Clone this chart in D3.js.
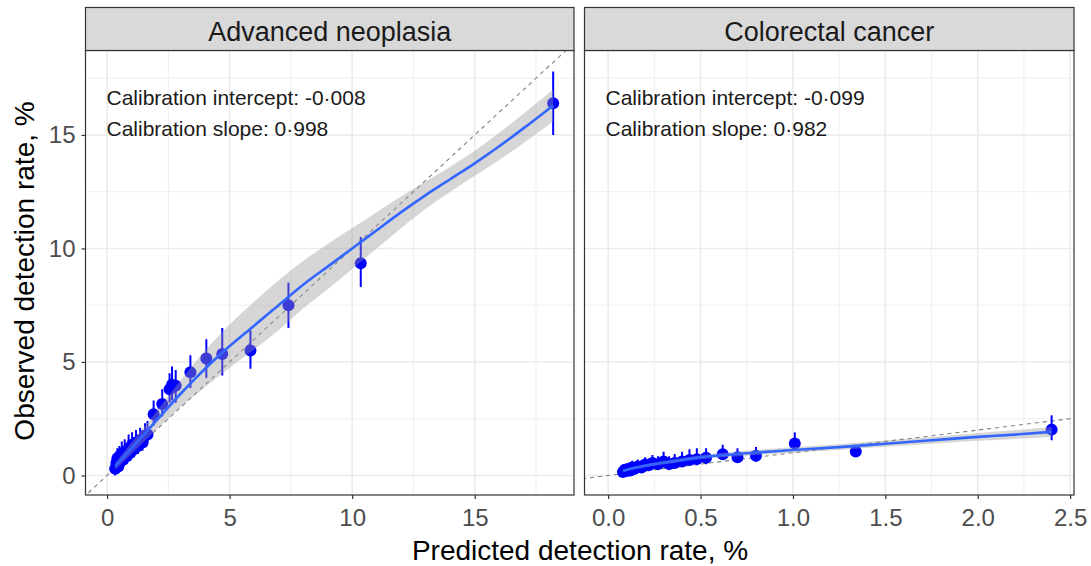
<!DOCTYPE html>
<html>
<head>
<meta charset="utf-8">
<script src="https://cdn.jsdelivr.net/npm/d3@7"></script>
<style>
  body { margin: 0; background: #fff; }
  text { font-family: "Liberation Sans", Arial, sans-serif; }
</style>
</head>
<body>
<div class="chart"></div>
<script>
// panel titles
const panelTitles = ['Advanced neoplasia', 'Colorectal cancer'];
const calibText = [
	['Calibration intercept: -0\u00b7008', 'Calibration slope: 0\u00b7998'],
	['Calibration intercept: -0\u00b7099', 'Calibration slope: 0\u00b7982']
];

// tick labels
const yTicks = [0, 5, 10, 15];
const anXTicks = [0, 5, 10, 15];
const crcXTicks = [0, 0.5, 1, 1.5, 2, 2.5];

// advanced neoplasia: observed vs predicted (%)
const anPred = [0.33, 0.38, 0.42, 0.46, 0.5, 0.55, 0.6, 0.66, 0.72, 0.8, 0.88, 0.95, 1.02, 1.1, 1.18, 1.26, 1.35, 1.45, 1.55, 1.65, 1.9, 2.25, 2.55, 2.65, 2.8, 3.4, 4.05, 4.7, 5.85, 7.4, 10.35, 18.2];
const anObs = [0.3, 0.55, 0.75, 0.4, 0.85, 0.6, 0.95, 0.7, 1.05, 0.85, 1.2, 1.0, 1.35, 1.15, 1.45, 1.3, 1.55, 1.45, 1.75, 1.8, 2.7, 3.15, 3.8, 4.0, 3.95, 4.55, 5.15, 5.35, 5.5, 7.5, 9.35, 16.4];
const anLo = [0.0, 0.2, 0.4, 0.1, 0.5, 0.3, 0.6, 0.4, 0.7, 0.5, 0.85, 0.65, 1.0, 0.8, 1.1, 0.95, 1.2, 1.1, 1.4, 1.45, 2.2, 2.6, 3.2, 3.3, 3.2, 3.85, 4.3, 4.4, 4.7, 6.5, 8.3, 15.0];
const anHi = [0.7, 1.0, 1.2, 0.8, 1.3, 1.1, 1.5, 1.2, 1.6, 1.4, 1.8, 1.5, 1.9, 1.7, 2.0, 1.8, 2.1, 2.0, 2.3, 2.4, 3.3, 3.8, 4.5, 4.8, 4.65, 5.3, 6.0, 6.5, 6.4, 8.5, 10.5, 17.8];

// colorectal cancer: observed vs predicted (%)
const crcPred = [0.08, 0.09, 0.1, 0.11, 0.12, 0.13, 0.14, 0.16, 0.18, 0.2, 0.22, 0.24, 0.27, 0.3, 0.33, 0.36, 0.4, 0.44, 0.48, 0.53, 0.62, 0.7, 0.8, 1.01, 1.34, 2.4];
const crcObs = [0.15, 0.25, 0.2, 0.3, 0.22, 0.35, 0.28, 0.4, 0.35, 0.48, 0.45, 0.55, 0.5, 0.62, 0.5, 0.55, 0.62, 0.68, 0.72, 0.78, 0.94, 0.8, 0.87, 1.41, 1.06, 2.02];
const crcLo = [0.0, 0.05, 0.05, 0.1, 0.05, 0.15, 0.1, 0.2, 0.15, 0.3, 0.25, 0.35, 0.3, 0.4, 0.3, 0.35, 0.4, 0.45, 0.45, 0.5, 0.7, 0.55, 0.6, 1.24, 0.85, 1.55];
const crcHi = [0.35, 0.45, 0.45, 0.55, 0.45, 0.65, 0.55, 0.7, 0.65, 0.8, 0.75, 0.9, 0.85, 1.05, 0.85, 0.95, 1.05, 1.15, 1.2, 1.2, 1.35, 1.2, 1.25, 1.9, 1.3, 2.65];

// loess fits with standard error band
const anFitX = [0.33, 1, 2, 3, 4, 5, 6, 7, 8, 9, 10, 11, 12, 13, 14, 15, 16, 17, 18.2];
const anFitY = [0.4, 1.2, 2.4, 3.6, 4.7, 5.7, 6.6, 7.5, 8.4, 9.2, 10.0, 10.8, 11.6, 12.35, 13.05, 13.75, 14.5, 15.3, 16.3];
const anFitSe = [0.15, 0.25, 0.4, 0.6, 0.8, 0.95, 1.05, 1.1, 1.05, 1.0, 0.9, 0.8, 0.7, 0.6, 0.55, 0.55, 0.6, 0.65, 0.7];
const crcFitX = [0.08, 0.15, 0.25, 0.35, 0.5, 0.75, 1.0, 1.25, 1.5, 1.75, 2.0, 2.2, 2.4];
const crcFitY = [0.2, 0.35, 0.5, 0.62, 0.8, 0.98, 1.12, 1.25, 1.4, 1.55, 1.7, 1.8, 1.92];
const crcFitSe = [0.06, 0.06, 0.07, 0.08, 0.09, 0.11, 0.12, 0.13, 0.14, 0.15, 0.17, 0.19, 0.21];

let w = 1091;
let h = 566;
let plotTop = 50.5, plotBottom = 495;
let font = '"Liberation Sans", Arial, sans-serif';

let svg = d3.select('.chart').append('svg').attr('width', w).attr('height', h);

let yScale = d3.scaleLinear().domain([ -0.86, 18.72 ]).range([ plotBottom, plotTop ]);

let panels = [
	{ x0: 85.5, x1: 574, domain: [ -0.88, 19.05 ], ticks: anXTicks, minor: [ 2.5, 7.5, 12.5, 17.5 ],
		pred: anPred, obs: anObs, lo: anLo, hi: anHi, fx: anFitX, fy: anFitY, fse: anFitSe, fmt: d3.format('d') },
	{ x0: 584.5, x1: 1074, domain: [ -0.128, 2.521 ], ticks: crcXTicks, minor: [ 0.25, 0.75, 1.25, 1.75, 2.25 ],
		pred: crcPred, obs: crcObs, lo: crcLo, hi: crcHi, fx: crcFitX, fy: crcFitY, fse: crcFitSe, fmt: d3.format('.1f') }
];

panels.forEach(function(p, k) {
	let xScale = d3.scaleLinear().domain(p.domain).range([ p.x0, p.x1 ]);
	let g = svg.append('g');

	g.append('clipPath').attr('id', 'clip' + k)
		.append('rect').attr('x', p.x0).attr('y', plotTop).attr('width', p.x1 - p.x0).attr('height', plotBottom - plotTop);

	// grid
	g.selectAll('.hmin').data([ 2.5, 7.5, 12.5, 17.5 ]).enter().append('line')
		.attr('x1', p.x0).attr('x2', p.x1).attr('y1', d => yScale(d)).attr('y2', d => yScale(d))
		.attr('stroke', '#ebebeb').attr('stroke-width', 0.8);
	g.selectAll('.vmin').data(p.minor).enter().append('line')
		.attr('y1', plotTop).attr('y2', plotBottom).attr('x1', d => xScale(d)).attr('x2', d => xScale(d))
		.attr('stroke', '#ebebeb').attr('stroke-width', 0.8);
	g.selectAll('.hmaj').data(yTicks).enter().append('line')
		.attr('x1', p.x0).attr('x2', p.x1).attr('y1', d => yScale(d)).attr('y2', d => yScale(d))
		.attr('stroke', '#ebebeb').attr('stroke-width', 1.6);
	g.selectAll('.vmaj').data(p.ticks).enter().append('line')
		.attr('y1', plotTop).attr('y2', plotBottom).attr('x1', d => xScale(d)).attr('x2', d => xScale(d))
		.attr('stroke', '#ebebeb').attr('stroke-width', 1.6);

	let plot = g.append('g').attr('clip-path', 'url(#clip' + k + ')');

	// identity line
	plot.append('line')
		.attr('x1', xScale(-1)).attr('y1', yScale(-1)).attr('x2', xScale(25)).attr('y2', yScale(25))
		.attr('stroke', '#7f7f7f').attr('stroke-width', 1.1).attr('stroke-dasharray', '4,4');

	let pts = p.pred.map((d, i) => [ d, p.obs[i], p.lo[i], p.hi[i] ]);

	// error bars
	plot.selectAll('.err').data(pts).enter().append('line')
		.attr('x1', d => xScale(d[0])).attr('x2', d => xScale(d[0]))
		.attr('y1', d => yScale(d[2])).attr('y2', d => yScale(d[3]))
		.attr('stroke', '#0000ff').attr('stroke-width', 2);

	// points
	plot.selectAll('.pt').data(pts).enter().append('circle')
		.attr('cx', d => xScale(d[0])).attr('cy', d => yScale(d[1])).attr('r', 6)
		.attr('fill', '#0000ff');

	// loess band + line
	let fit = p.fx.map((d, i) => [ d, p.fy[i], p.fse[i] ]);
	plot.append('path').datum(fit)
		.attr('d', d3.area().curve(d3.curveMonotoneX)
			.x(d => xScale(d[0])).y0(d => yScale(d[1] - d[2])).y1(d => yScale(d[1] + d[2])))
		.attr('fill', '#999999').attr('fill-opacity', 0.4);
	plot.append('path').datum(fit)
		.attr('d', d3.line().curve(d3.curveMonotoneX).x(d => xScale(d[0])).y(d => yScale(d[1])))
		.attr('fill', 'none').attr('stroke', '#3366ff').attr('stroke-width', 2.6);

	// annotation
	g.selectAll('.cal').data(calibText[k]).enter().append('text')
		.attr('x', p.x0 + 21).attr('y', (d, i) => 105 + i * 31)
		.attr('font-size', '21px').attr('fill', '#1a1a1a').text(d => d);

	// panel border
	g.append('rect').attr('x', p.x0).attr('y', plotTop).attr('width', p.x1 - p.x0).attr('height', plotBottom - plotTop)
		.attr('fill', 'none').attr('stroke', '#333333').attr('stroke-width', 1.2);

	// strip
	g.append('rect').attr('x', p.x0).attr('y', 7.5).attr('width', p.x1 - p.x0).attr('height', plotTop - 7.5)
		.attr('fill', '#d9d9d9').attr('stroke', '#333333').attr('stroke-width', 1.2);
	g.append('text').attr('x', (p.x0 + p.x1) / 2).attr('y', 40.5).attr('text-anchor', 'middle')
		.attr('font-size', '27px').attr('fill', '#1a1a1a').text(panelTitles[k]);

	// x axis
	let xAxis = g.append('g').attr('transform', 'translate(0,' + plotBottom + ')')
		.call(d3.axisBottom(xScale).tickValues(p.ticks).tickFormat(p.fmt).tickSize(4).tickPadding(10));
	xAxis.select('.domain').remove();
	xAxis.selectAll('line').attr('stroke', '#333333').attr('stroke-width', 1.2);
	xAxis.selectAll('text').attr('font-size', '24px').attr('fill', '#4d4d4d').style('font-family', font);

	if (k === 0) {
		let yAxis = g.append('g').attr('transform', 'translate(' + p.x0 + ',0)')
			.call(d3.axisLeft(yScale).tickValues(yTicks).tickSize(4).tickPadding(6));
		yAxis.select('.domain').remove();
		yAxis.selectAll('line').attr('stroke', '#333333').attr('stroke-width', 1.2);
		yAxis.selectAll('text').attr('font-size', '24px').attr('fill', '#4d4d4d').style('font-family', font);
	}
});

// axis titles
svg.append('text').attr('x', 580).attr('y', 560).attr('text-anchor', 'middle')
	.attr('font-size', '28px').attr('fill', '#000').text('Predicted detection rate, %');
svg.append('text').attr('transform', 'translate(34,271) rotate(-90)').attr('text-anchor', 'middle')
	.attr('font-size', '28px').attr('fill', '#000').text('Observed detection rate, %');
</script>
</body>
</html>
